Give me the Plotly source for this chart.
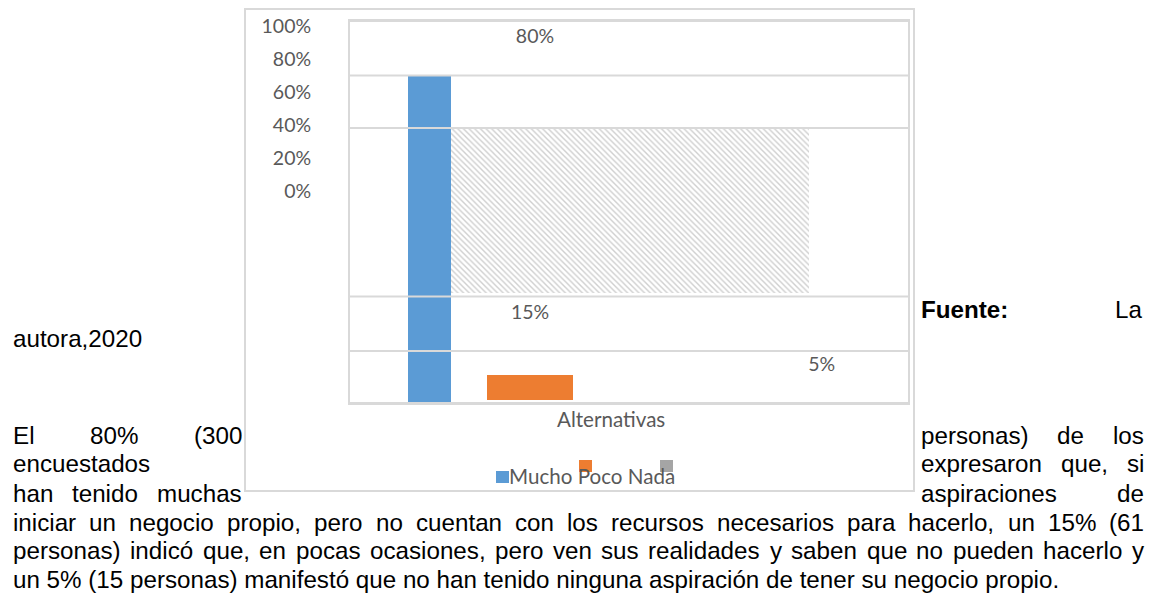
import plotly.graph_objects as go

# ---------------- data ----------------
categories = ["Mucho", "Poco", "Nada"]
percent_labels = ["80%", "15%", "5%"]
series_colors = ["#5B9BD5", "#ED7D31", "#A5A5A5"]

# bar geometry as it appears in the (distorted) picture, in axis units
bar_x = [0.1428, 0.3226, 0.5015]
bar_width = [0.0776, 0.1541, 0.6421]
bar_base = [0.0, 0.73, 26.8]
bar_top = [80.0, 6.85, 67.03]

# value-label positions, axis units
label_x = [0.3315, 0.3226, 0.8453]
label_y = [89.3, 21.85, 9.05]

# horizontal grid lines, axis units
grid_vals = [0.0, 12.72, 26.05, 67.28, 80.1, 93.45]

# left tick labels (percent axis)
tick_vals = [0.0, 0.2, 0.4, 0.6, 0.8, 1.0]

# ---------------- layout helpers ----------------
W, H = 1158, 601
PL, PR, PT, PB = 350, 908, 21, 403  # plot area in pixels


def px_x(px):
    return (px - PL) / (PR - PL)


def px_y(py):
    return (PB - py) / (PB - PT)


CHART_FONT = "Lato"
CHART_GRAY = "#595959"
LINE_GRAY = "#d9d9d9"
BODY_FONT = "Liberation Sans, Arial"
BODY_SIZE = 24.2

# Arial advance widths (1/1000 em) for justification
ARIAL = {" ": 278, "(": 333, ")": 333, ",": 278, ".": 278, "%": 889, ":": 278,
         "a": 556, "b": 556, "c": 500, "d": 556, "e": 556, "f": 278, "g": 556,
         "h": 556, "i": 222, "j": 222, "k": 500, "l": 222, "m": 833, "n": 556,
         "o": 556, "p": 556, "q": 556, "r": 333, "s": 500, "t": 278, "u": 556,
         "v": 500, "w": 722, "x": 500, "y": 500, "z": 500, "ó": 556,
         "E": 667, "F": 611, "L": 556}


def text_w(s, size):
    return sum(ARIAL.get(c, 556) for c in s) / 1000.0 * size


fig = go.Figure()

# bars
for i, cat in enumerate(categories):
    marker = dict(color=series_colors[i], line=dict(width=0))
    if cat == "Nada":
        marker = dict(
            color="#ffffff",
            line=dict(width=0),
            pattern=dict(shape="\\", fgcolor="#cfcfcf", bgcolor="#ffffff",
                         size=4, solidity=0.35, fillmode="replace"),
        )
    fig.add_trace(go.Bar(
        x=[bar_x[i]], y=[bar_top[i] - bar_base[i]], base=[bar_base[i]],
        width=[bar_width[i]], name=cat, marker=marker,
        showlegend=False, hoverinfo="skip",
    ))

# value labels
fig.add_trace(go.Scatter(
    x=label_x, y=label_y, mode="text", text=percent_labels,
    textfont=dict(family=CHART_FONT, size=19.5, color=CHART_GRAY),
    showlegend=False, hoverinfo="skip",
))

# dummy trace to carry the percent axis
fig.add_trace(go.Scatter(x=[None], y=[None], yaxis="y2",
                         showlegend=False, hoverinfo="skip"))

shapes = []
# grid lines above the bars
for g in grid_vals:
    shapes.append(dict(type="line", xref="paper", yref="y", x0=0, x1=1,
                       y0=g, y1=g, line=dict(color=LINE_GRAY, width=2),
                       layer="above"))
# outer chart border
shapes.append(dict(type="rect", xref="paper", yref="paper",
                   x0=px_x(245), x1=px_x(914), y0=px_y(491), y1=px_y(9),
                   line=dict(color=LINE_GRAY, width=2), layer="below"))
# legend keys
legend_keys = [(496, 471, 509, 483), (579, 460, 592, 472), (660, 460, 673, 472)]
for (x0, y0, x1, y1), col in zip(legend_keys, series_colors):
    shapes.append(dict(type="rect", xref="paper", yref="paper",
                       x0=px_x(x0), x1=px_x(x1), y0=px_y(y1), y1=px_y(y0),
                       fillcolor=col, line=dict(width=0)))

annotations = []
# axis title & legend text
annotations.append(dict(text="Alternativas", x=px_x(611), y=px_y(419),
                        xref="paper", yref="paper", showarrow=False,
                        xanchor="center", yanchor="middle",
                        font=dict(family=CHART_FONT, size=20.6, color=CHART_GRAY)))
annotations.append(dict(text=" ".join(categories), x=px_x(507), y=px_y(476),
                        xref="paper", yref="paper", showarrow=False,
                        xanchor="left", yanchor="middle",
                        font=dict(family=CHART_FONT, size=20.6, color=CHART_GRAY)))


def body_ann(txt, x, base, anchor="left"):
    annotations.append(dict(text=txt, x=px_x(x), y=px_y(base - 8),
                            xref="paper", yref="paper", showarrow=False,
                            xanchor=anchor, yanchor="middle", borderpad=0,
                            font=dict(family=BODY_FONT, size=BODY_SIZE, color="#000000")))


def justified(line, x_left, x_right, base):
    words = line.split(" ")
    widths = [text_w(w, BODY_SIZE) for w in words]
    gap = (x_right - x_left - sum(widths)) / max(len(words) - 1, 1)
    x = x_left
    for w, ww in zip(words, widths):
        body_ann(w, x, base)
        x += ww + gap


# surrounding document text (baseline y)
body_ann("<b>Fuente:</b>", 920, 317)
body_ann("La", 1143, 317, "right")
body_ann("autora,2020", 12, 346.5)
justified("El 80% (300", 12, 241, 443)
body_ann("encuestados", 12, 472)
justified("han tenido muchas", 12, 241, 501)
justified("personas) de los", 920, 1143, 443)
justified("expresaron que, si", 920, 1143, 472)
justified("aspiraciones de", 920, 1143, 501)
justified("iniciar un negocio propio, pero no cuentan con los recursos necesarios para hacerlo, un 15% (61",
          12, 1143, 530)
justified("personas) indicó que, en pocas ocasiones, pero ven sus realidades y saben que no pueden hacerlo y",
          12, 1143, 558.5)
body_ann("un 5% (15 personas) manifestó que no han tenido ninguna aspiración de tener su negocio propio.",
         12, 587)

# percent axis range so that 0% sits at y=191px and 100% at y=26px
f0, f1 = px_y(191), px_y(26)
span = 1.0 / (f1 - f0)
r0 = -f0 * span
r1 = r0 + span

fig.update_layout(
    width=W, height=H,
    margin=dict(l=PL, r=W - PR, t=PT, b=H - PB, pad=0),
    paper_bgcolor="#ffffff", plot_bgcolor="#ffffff",
    barmode="overlay", bargap=0,
    showlegend=False,
    xaxis=dict(range=[0, 1], showticklabels=False, showgrid=False, zeroline=False,
               showline=True, mirror=True, linecolor=LINE_GRAY, linewidth=2,
               fixedrange=True),
    yaxis=dict(range=[0, grid_vals[-1]], showticklabels=False, showgrid=False,
               zeroline=False, showline=True, mirror=True, linecolor=LINE_GRAY,
               linewidth=2, fixedrange=True),
    yaxis2=dict(overlaying="y", side="left", range=[r0, r1], tickvals=tick_vals,
                tickformat=".0%", showgrid=False, zeroline=False, showline=False,
                ticks="outside", ticklen=34, tickcolor="rgba(0,0,0,0)",
                tickfont=dict(family=CHART_FONT, size=19.5, color=CHART_GRAY),
                fixedrange=True),
    shapes=shapes,
    annotations=annotations,
)

fig.write_html("out.html", include_plotlyjs=True, full_html=True,
               config={"displayModeBar": False, "staticPlot": True},
               post_script="document.body.style.margin='0';document.body.style.overflow='hidden';")
